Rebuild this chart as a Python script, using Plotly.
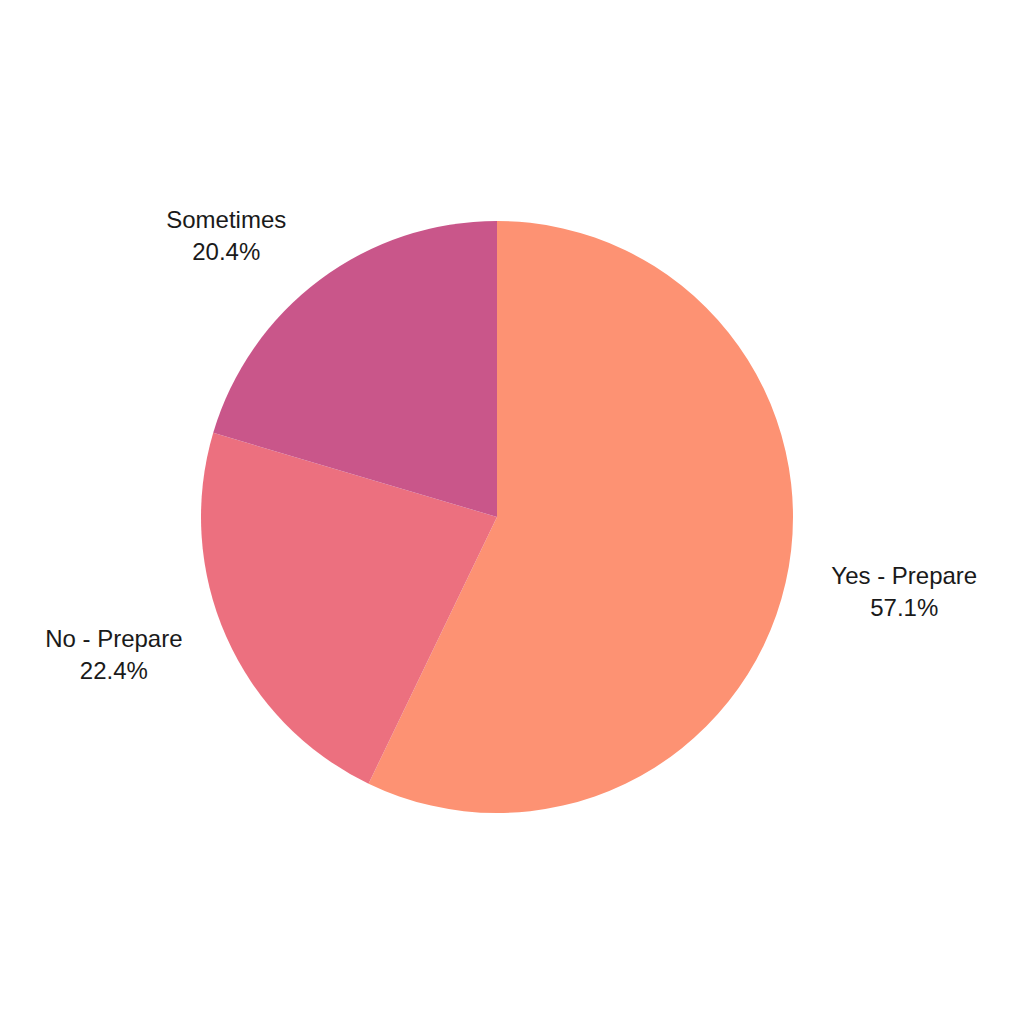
import plotly.graph_objects as go

labels = ["Yes - Prepare", "No - Prepare", "Sometimes"]
values = [28, 11, 10]
colors = ["#FD9273", "#EC707F", "#C9568A"]

# pie drawn inside a 656px square area; slices use an inner 592px domain,
# labels come from a transparent, slightly larger pie so they sit further out
inner = 32 / 656

fig = go.Figure()
fig.add_trace(go.Pie(
    labels=labels,
    values=values,
    sort=False,
    direction="clockwise",
    rotation=0,
    marker=dict(colors=colors, line=dict(width=0)),
    textinfo="none",
    hoverinfo="label+percent",
    domain=dict(x=[inner, 1 - inner], y=[inner, 1 - inner]),
))
fig.add_trace(go.Pie(
    labels=labels,
    values=values,
    sort=False,
    direction="clockwise",
    rotation=0,
    marker=dict(colors=["rgba(0,0,0,0)"] * len(values), line=dict(width=0)),
    textposition="outside",
    texttemplate="%{label}<br>%{percent:.1%}",
    textfont=dict(family="Liberation Sans, Arial, sans-serif", size=24, color="#1a1a1a"),
    hoverinfo="skip",
    domain=dict(x=[0, 1], y=[0, 1]),
))

fig.update_layout(
    width=1024, height=1024,
    showlegend=False,
    paper_bgcolor="white",
    plot_bgcolor="white",
    margin=dict(l=161, r=207, t=181, b=187),
)

fig.write_html("out.html")
